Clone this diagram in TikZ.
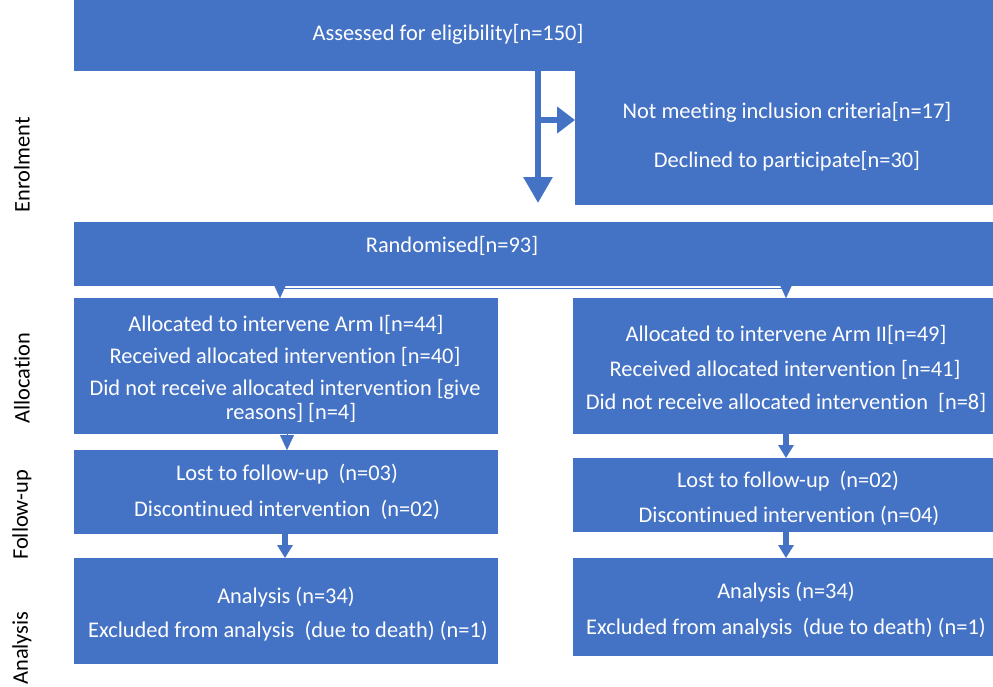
\documentclass[tikz,border=0pt]{standalone}
\usepackage{fontspec}
\setmainfont{Carlito}[Ligatures=NoCommon]
\usetikzlibrary{arrows.meta}
\definecolor{boxblue}{HTML}{4472C4}
\tikzset{
  box/.style={rectangle, fill=boxblue, draw=none, inner sep=0pt, anchor=north west},
  txt/.style={text=white, inner sep=0pt, yshift=-1.5pt, font=\fontsize{22.4}{24}\selectfont},
  phase/.style={text=black, inner sep=0pt, rotate=90, font=\fontsize{22.4}{24}\selectfont},
  bigarr/.style={draw=boxblue, line width=6pt, -{Triangle[width=28pt,length=26pt]}},
  sidearr/.style={draw=boxblue, line width=6pt, -{Triangle[width=26pt,length=18pt]}},
  midarr/.style={draw=boxblue, line width=6pt, -{Triangle[width=15pt,length=13pt]}},
  triarr/.style={draw=boxblue, line width=0.1pt, -{Triangle[width=11pt,length=12pt]}},
  tri2arr/.style={draw=boxblue, line width=0.1pt, -{Triangle[width=14pt,length=15pt]}},
}
\begin{document}
\begin{tikzpicture}[x=1pt,y=-1pt]
\useasboundingbox (0,0) rectangle (993,686);
\fill[white] (0,0) rectangle (993,686);
% boxes
\node[box, minimum width=919pt, minimum height=71pt] (top) at (74,0) {};
\node[box, minimum width=418pt, minimum height=134pt] (excl) at (575,71) {};
\node[box, minimum width=919pt, minimum height=64pt] (rand) at (74,222) {};
\node[box, minimum width=424pt, minimum height=136pt] (allocL) at (74,298) {};
\node[box, minimum width=420pt, minimum height=136pt] (allocR) at (573,298) {};
\node[box, minimum width=424pt, minimum height=84pt] (fuL) at (74,450) {};
\node[box, minimum width=420pt, minimum height=74pt] (fuR) at (573,458) {};
\node[box, minimum width=424pt, minimum height=106pt] (anL) at (74,558) {};
\node[box, minimum width=420pt, minimum height=98pt] (anR) at (573,558) {};
% texts
\node[txt] (t1) at (448,33) {Assessed for eligibility[n=150]};
\node[txt] (e1) at (787,111) {Not meeting inclusion criteria[n=17]};
\node[txt] (e2) at (787,160) {Declined to participate[n=30]};
\node[txt] (r1) at (452,244) {Randomised[n=93]};
\node[txt] (al1) at (286,323) {Allocated to intervene Arm I[n=44]};
\node[txt] (al2) at (285,355) {Received allocated intervention [n=40]};
\node[txt] (al3) at (285,388) {Did not receive allocated intervention [give};
\node[txt] (al4) at (291,411) {reasons] [n=4]};
\node[txt] (ar1) at (786,333) {Allocated to intervene Arm II[n=49]};
\node[txt] (ar2) at (785,368) {Received allocated intervention [n=41]};
\node[txt] (ar3) at (786,401) {Did not receive allocated intervention~ [n=8]};
\node[txt] (fl1) at (287,473) {Lost to follow-up~ (n=03)};
\node[txt] (fl2) at (287,508) {Discontinued intervention~ (n=02)};
\node[txt] (fr1) at (788,480) {Lost to follow-up~ (n=02)};
\node[txt] (fr2) at (789,514) {Discontinued intervention (n=04)};
\node[txt] (nl1) at (286,596) {Analysis (n=34)};
\node[txt] (nl2) at (288,630) {Excluded from analysis~ (due to death) (n=1)};
\node[txt] (nr1) at (786,591) {Analysis (n=34)};
\node[txt] (nr2) at (786,627) {Excluded from analysis~ (due to death) (n=1)};
% phase labels
\node[phase] (p1) at (22,165) {Enrolment};
\node[phase] (p2) at (22,378) {Allocation};
\node[phase] (p3) at (22,515) {Follow-up};
\node[phase] (p4) at (22,648) {Analysis};
% connectors
\coordinate (ex) at (538,203);
\coordinate (br) at (538,120);
\draw[bigarr] (top.south -| ex) -- (ex);
\draw[sidearr] (br) -- (excl.west |- br);
\draw[draw=boxblue, line width=0.8pt] (280,288.5) -- (786,288.5);
\draw[triarr] (rand.south -| 280,0) -- (allocL.north -| 280,0);
\draw[triarr] (rand.south -| 786,0) -- (allocR.north -| 786,0);
\draw[tri2arr] (allocL.south -| 287,0) -- (fuL.north -| 287,0);
\draw[midarr] (allocR.south -| 786,0) -- (fuR.north -| 786,0);
\draw[midarr] (fuL.south -| 285,0) -- (anL.north -| 285,0);
\draw[midarr] (fuR.south -| 786,0) -- (anR.north -| 786,0);
\end{tikzpicture}
\end{document}
